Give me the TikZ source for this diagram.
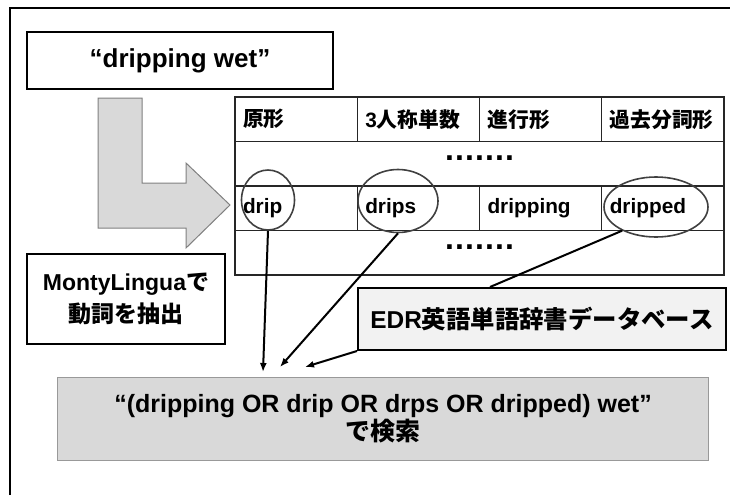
\documentclass[tikz,border=0pt]{standalone}
\usepackage{fontspec}
\setmainfont{Liberation Sans}
\newfontfamily\jp{Noto Sans CJK JP}
\usetikzlibrary{shapes.geometric, arrows.meta, positioning, calc}
\definecolor{boxgray}{RGB}{217,217,217}
\definecolor{edrgray}{RGB}{242,242,242}
\tikzstyle{block} = [draw, line width=2pt, rectangle, inner sep=0pt, anchor=north west, font=\bfseries]
\tikzstyle{cell} = [draw=black!85, line width=1.2pt, rectangle, outer sep=0pt, minimum height=44.5pt, text width=106.25pt, inner xsep=8pt, inner ysep=0pt, align=left, font=\bfseries\fontsize{20.8}{24}\selectfont]
\tikzstyle{ring} = [draw=black!75, line width=1.6pt, ellipse, inner sep=0pt]
\tikzstyle{dotrow} = [inner sep=0pt, font=\bfseries\fontsize{32}{34}\selectfont\addfontfeature{LetterSpace=3.5}]

\begin{document}
\begin{tikzpicture}[x=1pt, y=-1pt, >={Latex[length=9pt,width=7pt]}]
    \useasboundingbox (0,0) rectangle (730,495);
    \draw [line width=2pt] (10,495) -- (10,8) -- (730,8);
    % phrase and big arrow
    \node [block, minimum width=306pt, minimum height=57pt, font=\bfseries\fontsize{26}{30}\selectfont] (phrase) at (26,31) {“dripping wet”};
    \draw [fill=boxgray, draw=black!50, line width=1pt] (98,98) -- (142,98) -- (142,183) -- (186,183) -- (186,163) -- (230,205) -- (186,248) -- (186,228) -- (98,228) -- cycle;
    % table of forms
    \node [cell, anchor=north west] (h1) at (235,97) {\jp 原形};
    \node [cell, right=0pt of h1] (h2) {3{\jp 人称単数}};
    \node [cell, right=0pt of h2] (h3) {\jp 進行形};
    \node [cell, right=0pt of h3] (h4) {\jp 過去分詞形};
    \node [cell, text width=473pt, anchor=north west] (r2) at (h1.south west) {};
    \node [cell, anchor=north west] (d1) at (r2.south west) {drip};
    \node [cell, right=0pt of d1] (d2) {drips};
    \node [cell, right=0pt of d2] (d3) {dripping};
    \node [cell, right=0pt of d3] (d4) {dripped};
    \node [cell, text width=473pt, anchor=north west] (r4) at (d1.south west) {};
    \node [dotrow] (gap1) at ($(r2.center)+(0,-6)$) {.......};
    \node [dotrow] (gap2) at ($(r4.center)+(0,-6)$) {.......};
    \node [ring, minimum width=53pt, minimum height=60pt] (cdrip) at (268,200) {};
    \node [ring, minimum width=80pt, minimum height=63pt] (cdrips) at (398,201) {};
    \node [ring, minimum width=104pt, minimum height=60pt] (cdripped) at (656,207) {};
    % tools and query
    \node [block, minimum width=198pt, minimum height=90pt, align=center, font=\bfseries\fontsize{23}{32}\selectfont] (monty) at (26,253) {MontyLingua{\jp で}\\{\jp 動詞を抽出}};
    \node [block, fill=edrgray, minimum width=368pt, minimum height=62pt, font=\bfseries\fontsize{24.4}{28}\selectfont] (edr) at (357,287) {EDR{\jp 英語単語辞書データベース}};
    \node [block, fill=boxgray, draw=black!40, line width=1pt, minimum width=651pt, minimum height=83pt, align=center, font=\bfseries\fontsize{25}{28}\selectfont] (query) at (57,377) {“(dripping OR drip OR drps OR dripped) wet”\\{\jp で検索}};
    \coordinate (t1) at ($(query.north west)+(206,-5)$);
    \coordinate (t2) at ($(query.north west)+(223,-10)$);
    \coordinate (t3) at ($(query.north west)+(248,-10)$);
    \draw [->, line width=2pt] (cdrip.south) -- (t1);
    \draw [->, line width=2pt] (cdrips.south) -- (t2);
    \draw [->, line width=2pt] (edr.south west) -- (t3);
    \draw [line width=2pt] (cdripped.215) -- ($(edr.north west)+(133,0)$);
\end{tikzpicture}
\end{document}
